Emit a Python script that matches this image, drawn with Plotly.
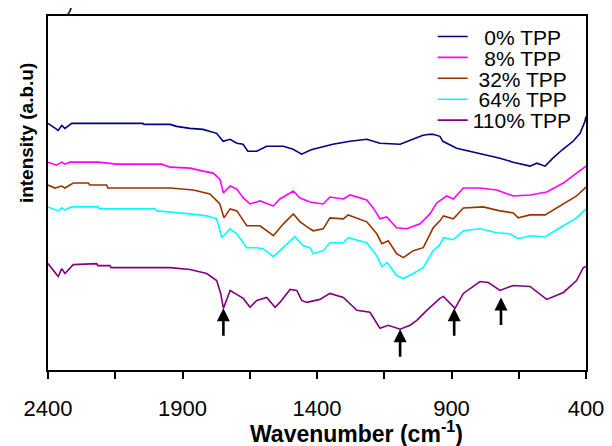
import numpy as np
import plotly.graph_objects as go

# ---------------- data (wavenumber, intensity in arbitrary units) ----------------
series_names = ["\u00a0\u00a00% TPP", "\u00a0\u00a08% TPP", "\u00a032% TPP", "\u00a064% TPP", "110% TPP"]
series_colors = ["#000080", "#FF00FF", "#993300", "#00FFFF", "#800080"]

wn_0 = [2400, 2362, 2349, 2337, 2312, 2047, 2043, 1946, 1922, 1872, 1824, 1773, 1749, 1723, 1698,
        1675, 1657, 1624, 1587, 1550, 1525, 1489, 1463, 1457, 1426, 1415, 1341, 1277, 1215, 1166,
        1091, 1054, 1006, 980, 969, 943, 932, 881, 831, 783, 720, 671, 608, 583, 552, 523, 486,
        448, 422, 404, 400]
int_0 = [248, 241, 246, 243, 248, 248, 247, 247, 245, 243, 242, 238, 230, 232, 228,
         227, 220, 220, 225, 225, 225, 222, 218, 217, 221, 222, 227, 230, 232, 228,
         227, 231, 236, 237, 237, 235, 230, 223, 220, 217, 213, 209, 205, 208, 205, 213, 222,
         230, 238, 250, 255]

wn_8 = [2400, 2368, 2349, 2337, 2318, 2213, 2145, 1977, 1946, 1872, 1823, 1786, 1761, 1748, 1723,
        1698, 1674, 1649, 1612, 1562, 1538, 1488, 1463, 1426, 1377, 1352, 1302, 1277, 1215, 1191,
        1166, 1141, 1104, 1067, 1017, 980, 955, 918, 893, 856, 794, 732, 670, 608, 546, 484,
        435, 410, 400]
int_8 = [209, 206, 209, 207, 209, 209, 207, 207, 204, 203, 200, 198, 192, 178, 185,
         182, 173, 167, 170, 165, 172, 180, 173, 169, 167, 174, 172, 176, 171, 163,
         152, 154, 143, 142, 147, 157, 168, 175, 172, 183, 183, 181, 175, 176, 179, 188,
         198, 203, 205]

wn_32 = [2400, 2374, 2349, 2337, 2306, 2250, 2245, 2182, 2178, 1946, 1860, 1798, 1761, 1746, 1723,
         1698, 1661, 1612, 1562, 1525, 1488, 1463, 1426, 1414, 1377, 1352, 1302, 1284, 1215, 1178,
         1159, 1135, 1104, 1079, 1042, 1005, 968, 943, 930, 893, 856, 782, 720, 670, 652, 608,
         552, 484, 435, 400]
int_32 = [186, 183, 185, 183, 188, 188, 186, 186, 183, 183, 181, 177, 167, 153, 162,
          160, 145, 145, 135, 147, 157, 149, 142, 140, 142, 153, 152, 156, 149, 137,
          127, 130, 117, 113, 120, 123, 143, 150, 155, 152, 163, 164, 160, 158, 153, 156,
          156, 167, 175, 184]

wn_64 = [2400, 2362, 2349, 2337, 2312, 2213, 2210, 2002, 1995, 1946, 1872, 1810, 1773, 1754, 1723,
         1698, 1661, 1624, 1600, 1562, 1525, 1482, 1451, 1426, 1414, 1377, 1352, 1302, 1284, 1215,
         1178, 1159, 1139, 1104, 1079, 1042, 1005, 968, 943, 930, 893, 856, 794, 732, 683, 652,
         608, 552, 484, 435, 400]
int_64 = [164, 160, 163, 161, 164, 164, 162, 162, 160, 159, 157, 155, 152, 133, 142,
          137, 123, 123, 122, 114, 123, 134, 125, 123, 117, 120, 128, 128, 133, 128,
          115, 104, 108, 95, 92, 97, 103, 120, 126, 133, 131, 140, 142, 138, 137, 132,
          135, 134, 145, 153, 162]

wn_110 = [2400, 2362, 2349, 2337, 2306, 2219, 2215, 2170, 2165, 1946, 1872, 1810, 1773, 1758, 1748,
          1723, 1705, 1674, 1649, 1624, 1587, 1556, 1538, 1500, 1475, 1457, 1438, 1389, 1352, 1302,
          1252, 1203, 1166, 1135, 1091, 1054, 1029, 992, 943, 930, 887, 856, 794, 763, 720,
          670, 608, 546, 484, 435, 410, 400]
int_110 = [107, 94, 102, 97, 106, 107, 105, 105, 103, 103, 101, 97, 90, 77, 62,
           80, 77, 72, 63, 70, 73, 63, 68, 81, 80, 70, 68, 71, 77, 73,
           60, 58, 42, 45, 41, 45, 50, 60, 72, 74, 62, 77, 89, 88, 80,
           85, 84, 71, 78, 90, 103, 104]

series_wn = [wn_0, wn_8, wn_32, wn_64, wn_110]
series_int = [int_0, int_8, int_32, int_64, int_110]

# arrows marking bands on the 110% TPP spectrum
arrow_wn = [1748, 1091, 890, 716]
arrow_tip = [62, 41, 62, 73]

tick_vals = [2400, 2150, 1900, 1650, 1400, 1150, 900, 650, 400]
tick_text = ["2400", "", "1900", "", "1400", "", "900", "", "400"]

# ---------------- figure ----------------
FONT = "Liberation Sans, Arial"
fig = go.Figure()
legend_ids = ["legend", "legend2", "legend3", "legend4", "legend5"]
for name, color, xs, ys, lg in zip(series_names, series_colors, series_wn, series_int, legend_ids):
    fig.add_trace(go.Scatter(x=xs, y=ys, mode="lines", name=name, legend=lg,
                             line=dict(color=color, width=1.6)))

for wn, tip in zip(arrow_wn, arrow_tip):
    fig.add_annotation(x=wn, y=tip, xref="x", yref="y", ax=0, ay=29,
                       showarrow=True, arrowhead=2, arrowsize=1.0, arrowwidth=2.6,
                       arrowcolor="black", text="")

fig.add_annotation(text="<b>Wavenumber (cm<sup>-1</sup>)</b>", xref="paper", yref="paper",
                   x=0.574, y=-0.174, xanchor="center", yanchor="middle", showarrow=False,
                   font=dict(family=FONT, size=23, color="black"))
fig.add_annotation(text="<b>intensity (a.b.u)</b>", xref="paper", yref="paper",
                   x=-0.041, y=0.669, xanchor="center", yanchor="middle", textangle=-90,
                   showarrow=False,
                   font=dict(family=FONT, size=19, color="black"))
fig.add_annotation(text=")", xref="paper", yref="paper", x=0.04, y=1.035,
                   xanchor="center", yanchor="middle", showarrow=False,
                   font=dict(family=FONT, size=18, color="black"))

# one single-entry legend per series, stacked tightly like the reference
legend_layout = {}
for i, lg in enumerate(legend_ids):
    legend_layout[lg] = dict(x=0.715, y=0.941 - 0.059 * i, xanchor="left", yanchor="middle",
                             bgcolor="rgba(0,0,0,0)",
                             font=dict(family=FONT, size=21, color="black"))

# page has an 8px body margin, so the figure is 8px smaller than the window
fig.update_layout(
    width=604, height=438,
    margin=dict(l=40, r=26, t=6, b=76),
    paper_bgcolor="white", plot_bgcolor="white",
    font=dict(family=FONT, color="black"),
    showlegend=True,
    xaxis=dict(range=[2400, 400], tickmode="array", tickvals=tick_vals, ticktext=tick_text,
               ticks="outside", ticklen=7, tickwidth=1.5, tickcolor="black",
               showline=True, linecolor="black", linewidth=2, mirror=True,
               showgrid=False, zeroline=False, ticklabelstandoff=11,
               tickfont=dict(family=FONT, size=22, color="black")),
    yaxis=dict(range=[0, 356], showticklabels=False, ticks="",
               showline=True, linecolor="black", linewidth=2, mirror=True,
               showgrid=False, zeroline=False),
    **legend_layout,
)

fig.write_html("out.html")
